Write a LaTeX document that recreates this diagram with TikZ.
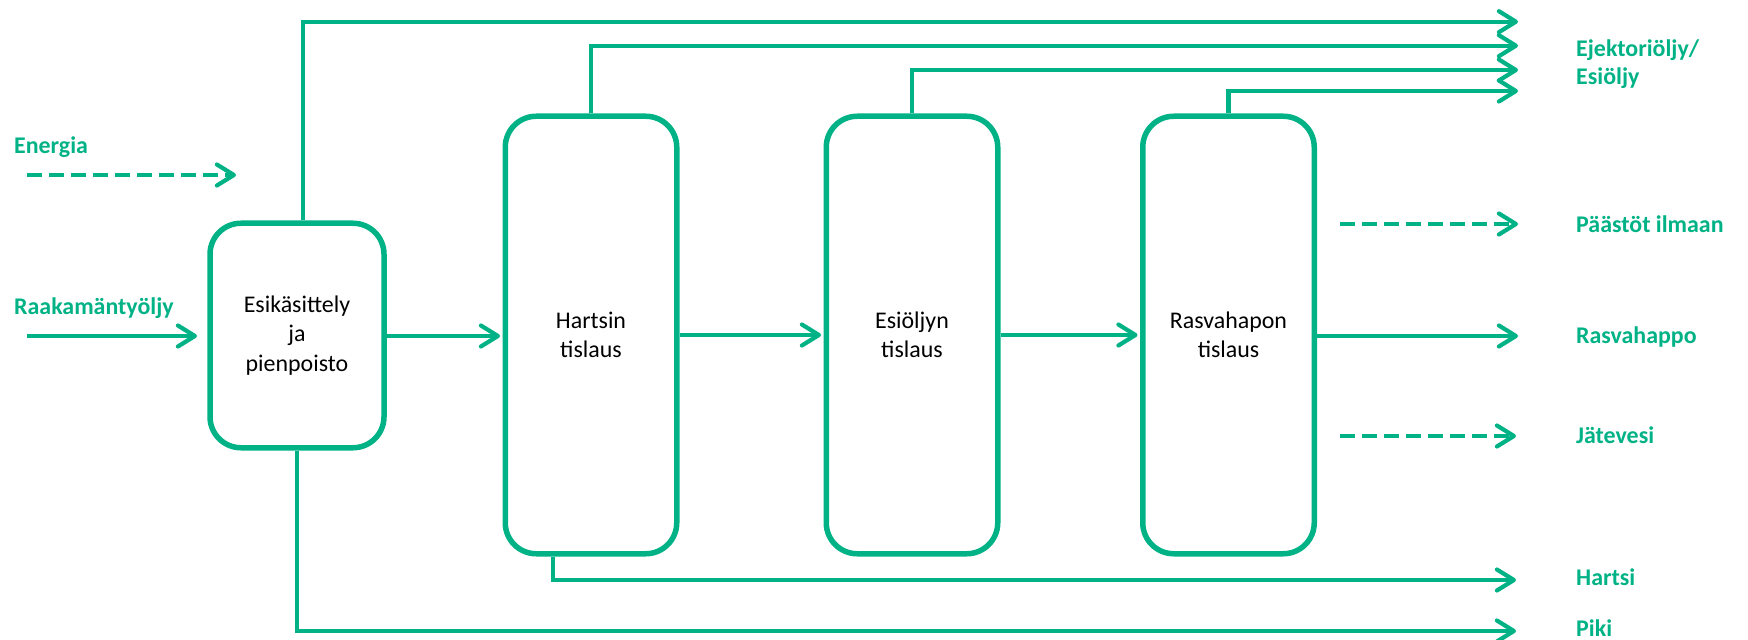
\documentclass[tikz,border=0pt]{standalone}
\usepackage{fontspec}
\setmainfont{Carlito}
\usetikzlibrary{arrows.meta}
\definecolor{flow}{RGB}{0,178,133}
\tikzset{
  unit/.style={draw=flow, line width=5.5bp, rounded corners=31bp, inner sep=0pt,
    align=center, font=\fontsize{24}{29.5}\selectfont, text=black},
  stream/.style={draw=flow, line width=4.2bp,
    -{Straight Barb[length=17bp,width=21bp,line cap=round,line join=round]}},
  dashstream/.style={stream, dash pattern=on 15bp off 7bp},
  tag/.style={inner sep=0pt, anchor=west, text=flow, align=left,
    font=\fontsize{24}{28}\selectfont\bfseries},
}
\begin{document}
\begin{tikzpicture}[x=1bp,y=-1bp]
\useasboundingbox (0,0) rectangle (1748,640);

% process units
\node[unit, minimum width=174bp, minimum height=224.5bp] (pre) at (297,335.5) {Esikäsittely\\ja\\pienpoisto};
\node[unit, minimum width=171.5bp, minimum height=437.5bp] (resin) at (591,335) {Hartsin\\tislaus};
\node[unit, minimum width=171.5bp, minimum height=437.5bp] (head) at (912,335) {Esiöljyn\\tislaus};
\node[unit, minimum width=171.5bp, minimum height=437.5bp] (fatty) at (1228.5,335) {Rasvahapon\\tislaus};

% inputs
\node[tag] (lenergy) at (14,147) {Energia};
\node[tag] (lcto) at (14,308) {Raakamäntyöljy};
\coordinate (en0) at (27,175);
\coordinate (en1) at (236,175);
\coordinate (cto0) at (27,336);
\draw[dashstream] (en0) -- (en1);
\draw[stream] (cto0) -- (cto0 -| {197,0});

% main line
\draw[stream, shorten >=2.5bp] (pre.east |- 0,336) -- (resin.west |- 0,336);
\draw[stream, shorten >=2.5bp] (resin.east) -- (head.west);
\draw[stream, shorten >=2.5bp] (head.east) -- (fatty.west);

% outlet ends
\coordinate (o1) at (1518,21.7);
\coordinate (o2) at (1518,45.7);
\coordinate (o3) at (1518,70);
\coordinate (o4) at (1518,91);
\coordinate (oair0) at (1340,224);
\coordinate (oair) at (1518,224);
\coordinate (ofa) at (1518,336);
\coordinate (ow0) at (1340,436);
\coordinate (ow) at (1516,436);
\coordinate (ores) at (1516,580);
\coordinate (opitch) at (1516,631);

% overhead streams
\draw[stream] ([xshift=6bp]pre.north) |- (o1);
\draw[stream] (resin.north) |- (o2);
\draw[stream] (head.north) |- (o3);
\draw[stream] (fatty.north) |- (o4);

% other outlets
\draw[dashstream] (oair0) -- (oair);
\draw[stream] (fatty.east |- ofa) -- (ofa);
\draw[dashstream] (ow0) -- (ow);
\draw[stream] ([xshift=-38bp]resin.south) |- (ores);
\draw[stream] (pre.south) |- (opitch);

% outlet labels
\node[tag] (lhead) at (1576,64) {Ejektoriöljy/\\Esiöljy};
\node[tag] (lair) at (1576,224) {Päästöt ilmaan};
\node[tag] (lfa) at (1576,337) {Rasvahappo};
\node[tag] (lwater) at (1576,435) {Jätevesi};
\node[tag] (lres) at (1576,577) {Hartsi};
\node[tag] (lpitch) at (1576,628) {Piki};
\end{tikzpicture}
\end{document}
